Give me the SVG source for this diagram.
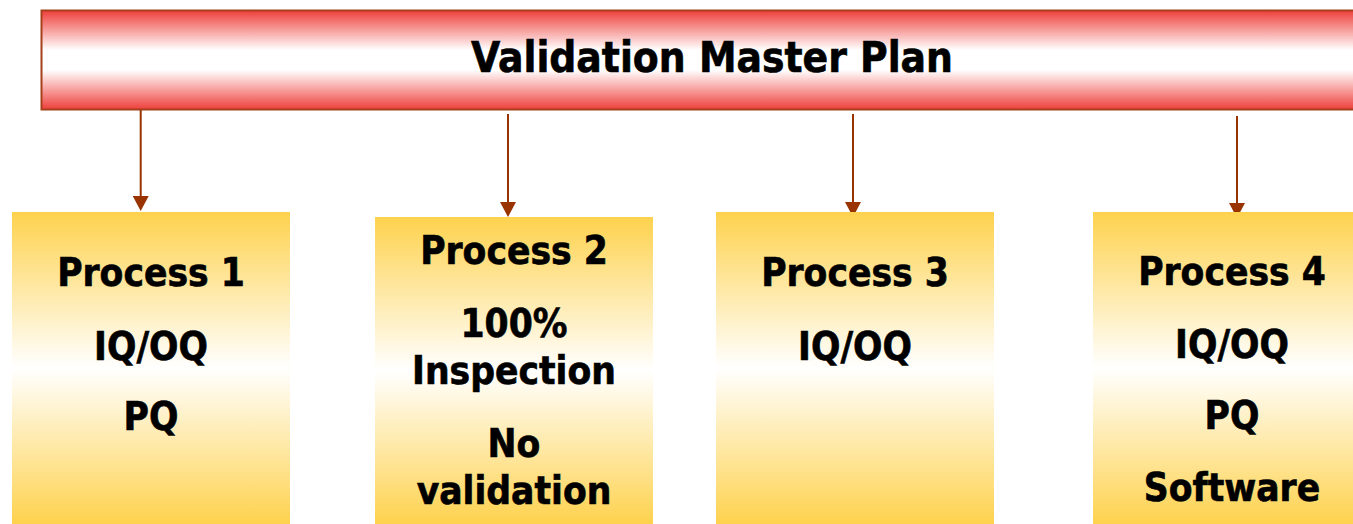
<svg xmlns="http://www.w3.org/2000/svg" width="1353" height="524" viewBox="0 0 1353 524">
<defs>
<linearGradient id="gRed" x1="0" y1="0" x2="0" y2="1">
<stop offset="0" stop-color="#EE3F3B"/>
<stop offset="0.4" stop-color="#FFFFFF"/>
<stop offset="0.6" stop-color="#FFFFFF"/>
<stop offset="1" stop-color="#EE3F3B"/>
</linearGradient>
<linearGradient id="gYel" x1="0" y1="0" x2="0" y2="1">
<stop offset="0" stop-color="#FED24E"/>
<stop offset="0.5" stop-color="#FFFFFF"/>
<stop offset="1" stop-color="#FED24E"/>
</linearGradient>
<marker id="arr" viewBox="0 0 15 16" markerWidth="15" markerHeight="16" refX="5" refY="8" orient="auto" markerUnits="userSpaceOnUse">
<path d="M0,0 L15,8 L0,16 Z" fill="#993300"/>
</marker>
<style>
.t{font-family:"DejaVu Sans Condensed","Liberation Sans",sans-serif;font-weight:bold;fill:#000;stroke:#000;stroke-width:0.6;text-anchor:middle;font-stretch:condensed}
.b{font-size:38.5px}
.h{font-size:42px}
.box{fill:url(#gYel)}
.c{stroke:#993300;stroke-width:2;fill:none}
</style>
</defs>
<g id="master">
<rect x="41.5" y="10.5" width="1330" height="99" fill="url(#gRed)" stroke="#A5401A" stroke-width="2"/>
<text class="t h" x="712" y="72">Validation Master Plan</text>
</g>
<g id="connectors">
<line class="c" x1="140.7" y1="110" x2="140.7" y2="201" marker-end="url(#arr)"/>
<line class="c" x1="508" y1="114" x2="508" y2="207" marker-end="url(#arr)"/>
<line class="c" x1="853" y1="114" x2="853" y2="207" marker-end="url(#arr)"/>
<line class="c" x1="1237" y1="116" x2="1237" y2="208" marker-end="url(#arr)"/>
</g>
<g id="p1">
<rect class="box" x="12" y="212" width="278" height="312"/>
<text class="t b" x="151" y="286">Process 1</text>
<text class="t b" x="151" y="359.5">IQ/OQ</text>
<text class="t b" x="151" y="430">PQ</text>
</g>
<g id="p2">
<rect class="box" x="375" y="217" width="278" height="307"/>
<text class="t b" x="514" y="264">Process 2</text>
<text class="t b" x="514" y="336.5">100%</text>
<text class="t b" x="514" y="384">Inspection</text>
<text class="t b" x="514" y="456.5">No</text>
<text class="t b" x="514" y="504">validation</text>
</g>
<g id="p3">
<rect class="box" x="716" y="212" width="278" height="312"/>
<text class="t b" x="855" y="286">Process 3</text>
<text class="t b" x="855" y="359.5">IQ/OQ</text>
</g>
<g id="p4">
<rect class="box" x="1093" y="212" width="278" height="312"/>
<text class="t b" x="1232" y="285">Process 4</text>
<text class="t b" x="1232" y="358">IQ/OQ</text>
<text class="t b" x="1232" y="429">PQ</text>
<text class="t b" x="1232" y="501">Software</text>
</g>
</svg>
